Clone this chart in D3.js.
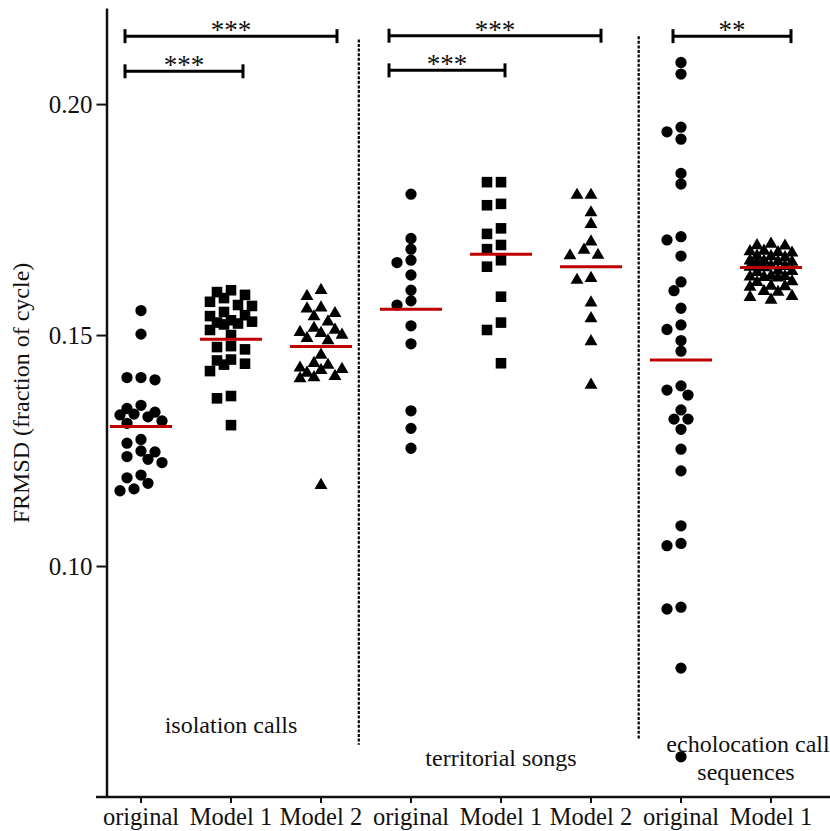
<!DOCTYPE html>
<html><head><meta charset="utf-8">
<script src="https://cdn.jsdelivr.net/npm/d3@7"></script>
<style>body{margin:0;background:#fff}text{font-family:"Liberation Serif","Times New Roman",serif;fill:#111}</style>
</head><body><svg id="c" width="830" height="831"></svg>
<script>
// ---------- data ----------
const categories = ["iso-orig","iso-m1","iso-m2","ter-orig","ter-m1","ter-m2","echo-orig","echo-m1"];
const tickLabels = ["original","Model 1","Model 2","original","Model 1","Model 2","original","Model 1"];
const yTicks = [0.10, 0.15, 0.20];

const isoOriginal = [0.1553,0.1502,0.1408,0.1403,0.1408,0.1348,0.1341,0.1329,0.1323,0.1327,0.1333,0.1314,0.1309,
  0.1274,0.1266,0.1249,0.1247,0.1237,0.1231,0.1224,0.1197,0.1191,0.1179,0.1167,0.1163];
const isoModel1 = [0.1597,0.1593,0.1587,0.1580,0.1572,0.1565,0.1563,0.1550,0.1543,0.1541,0.1532,0.1529,0.1527,0.1525,0.1523,
  0.1511,0.1500,0.1476,0.1474,0.1469,0.1447,0.1445,0.1438,0.1436,0.1422,0.1368,0.1363,0.1305];
const isoModel2 = [0.1597,0.1584,0.1559,0.1557,0.1540,0.1547,0.1529,0.1511,0.1506,0.1504,0.1515,0.1500,0.1493,0.1488,
  0.1457,0.1435,0.1439,0.1429,0.1426,0.1418,0.1424,0.1408,0.1406,0.1411,0.1175];
const terOriginal = [0.1805,0.1709,0.1686,0.1657,0.1662,0.1630,0.1597,0.1574,0.1565,0.1520,0.1481,0.1336,0.1298,0.1255];
const terModel1 = [0.1831,0.1831,0.1781,0.1784,0.1731,0.1719,0.1695,0.1686,0.1662,0.1648,0.1583,0.1527,0.1511,0.1439];
const terModel2 = [0.1803,0.1803,0.1765,0.1740,0.1702,0.1673,0.1672,0.1684,0.1619,0.1623,0.1570,0.1536,0.1486,0.1392];
const echoOriginal = [0.2090,0.2065,0.1940,0.1924,0.1950,0.1827,0.1850,0.1713,0.1706,0.1671,0.1615,0.1596,0.1558,0.1522,
  0.1512,0.1488,0.1465,0.1381,0.1370,0.1390,0.1338,0.1318,0.1318,0.1296,0.1253,0.1206,0.1087,0.1049,0.1044,0.0907,0.0911,
  0.0779,0.0587];
const echoModel1 = [0.1693,0.1697,0.1694,0.1682,0.1679,0.1681,0.1678,0.1670,0.1668,0.1671,0.1661,0.1658,0.1660,0.1657,0.1659,
  0.1650,0.1647,0.1649,0.1646,0.1638,0.1636,0.1639,0.1628,0.1625,0.1627,0.1624,0.1626,0.1616,0.1614,0.1606,0.1604,0.1605,
  0.1595,0.1593,0.1584,0.1582,0.1576];
const seriesValues = [isoOriginal, isoModel1, isoModel2, terOriginal, terModel1, terModel2, echoOriginal, echoModel1];
const means = [0.1302, 0.1491, 0.1475, 0.1556, 0.1675, 0.1648, 0.1446, 0.1646];
const markerKinds = ["circle","square","triangle","circle","square","triangle","circle","triangle"];

const groupLabels = [
  {lines:["isolation calls"], from:"iso-orig", to:"iso-m2"},
  {lines:["territorial songs"], from:"ter-orig", to:"ter-m2"},
  {lines:["echolocation call","sequences"], from:"echo-orig", to:"echo-m1"}
];
const comparisons = [
  {from:"iso-orig", to:"iso-m2", level:0.2147, label:"***"},
  {from:"iso-orig", to:"iso-m1", level:0.2071, label:"***"},
  {from:"ter-orig", to:"ter-m2", level:0.2148, label:"***"},
  {from:"ter-orig", to:"ter-m1", level:0.2073, label:"***"},
  {from:"echo-orig", to:"echo-m1", level:0.2147, label:"**"}
];

// ---------- layout (pixels) ----------
const bracketDx = [[-16,16],[-16,12],[-22,10],[-22,4],[-8,20]];
const glPos = [{dx:0, y:733}, {dx:0, y:766}, {dx:22, y:752}];

// ---------- chart ----------
const W = 830, H = 831;
const svg = d3.select("#c");
const x = d3.scaleBand().domain(categories).range([96, 816]).padding(0);
const y = d3.scaleLinear().domain([0.05, 0.2208]).range([797, 8]);
const cx = c => x(c) + x.bandwidth()/2;
const axisX = 106.5;

// separators (dotted)
const seps = [
  {a:"iso-m2", b:"ter-orig", t:0.42, y1:0.2140, y2:0.0613},
  {a:"ter-m2", b:"echo-orig", t:0.53, y1:0.2147, y2:0.0625}
];
svg.selectAll("line.sep").data(seps).join("line")
  .attr("x1", d => cx(d.a) + (cx(d.b)-cx(d.a))*d.t)
  .attr("x2", d => cx(d.a) + (cx(d.b)-cx(d.a))*d.t)
  .attr("y1", d => y(d.y1)).attr("y2", d => y(d.y2))
  .attr("stroke", "#000").attr("stroke-width", 2.2).attr("stroke-dasharray", "3,1.6");

// axes
const gy = svg.append("g").attr("transform", `translate(${axisX},0)`)
  .call(d3.axisLeft(y).tickValues(yTicks).tickFormat(d3.format(".2f")).tickSize(10).tickSizeOuter(0).tickPadding(4));
gy.select(".domain").attr("stroke", "#111").attr("stroke-width", 2.5);
gy.selectAll(".tick line").attr("stroke", "#111").attr("stroke-width", 2);
gy.selectAll(".tick text").style("font-size", "25px").style("font-family", "Liberation Serif").attr("dy", "0.34em");

const gx = svg.append("g").attr("transform", `translate(0,${y(0.05)})`)
  .call(d3.axisBottom(x).tickFormat((d,i) => tickLabels[i]).tickSize(6).tickSizeOuter(0).tickPadding(5));
gx.select(".domain").remove();
gx.append("line").attr("x1", 96).attr("x2", W).attr("y1", 0).attr("y2", 0)
  .attr("stroke", "#111").attr("stroke-width", 2.5);
gx.selectAll(".tick line").attr("stroke", "#111").attr("stroke-width", 2);
gx.selectAll(".tick text").style("font-size", "24.5px").style("font-family", "Liberation Serif");

// y axis title
svg.append("text").attr("transform", `translate(29,393) rotate(-90)`)
  .attr("text-anchor", "middle").style("font-size", "24px").text("FRMSD (fraction of cycle)");

// swarm layout (compact, bounded width)
function swarm(vals, c, s, d, maxK) {
  const pts = vals.map(v => ({v, py: y(v)})).sort((a,b) => a.py - b.py);
  const offs = [0];
  for (let k = 1; k <= maxK; k++) offs.push(-k*s, k*s);
  const placed = [];
  for (const p of pts) {
    let best = 0, bestD = -1;
    for (const off of offs) {
      const md = placed.reduce((m,q) => Math.min(m, Math.hypot(q.px - (c + off), q.py - p.py)), Infinity);
      if (md >= d) { best = off; break; }
      if (md > bestD) { bestD = md; best = off; }
    }
    p.px = c + best;
    placed.push(p);
  }
  return placed;
}
const symType = {circle: d3.symbolCircle, square: d3.symbolSquare, triangle: d3.symbolTriangle};
const symSize = {circle: 100, square: 112, triangle: 72};

categories.forEach((cat, i) => {
  const pts = swarm(seriesValues[i], cx(cat), 7, 10.5, 3);
  const kind = markerKinds[i];
  svg.append("g").selectAll("path").data(pts).join("path")
    .attr("transform", d => `translate(${d.px},${d.py})`)
    .attr("d", d3.symbol().type(symType[kind]).size(symSize[kind]))
    .attr("fill", "#000");
});

// mean lines
svg.selectAll("line.mean").data(categories).join("line")
  .attr("x1", d => cx(d) - 31).attr("x2", d => cx(d) + 31)
  .attr("y1", (d,i) => y(means[i])).attr("y2", (d,i) => y(means[i]))
  .attr("stroke", "#c00000").attr("stroke-width", 3);

// comparison brackets
const br = svg.append("g");
comparisons.forEach((cmp, i) => {
  const x1 = cx(cmp.from) + bracketDx[i][0], x2 = cx(cmp.to) + bracketDx[i][1], yy = y(cmp.level);
  const g = br.append("g").attr("stroke", "#000").attr("stroke-width", 3);
  g.append("line").attr("x1", x1).attr("x2", x2).attr("y1", yy).attr("y2", yy);
  g.append("line").attr("x1", x1).attr("x2", x1).attr("y1", yy-7).attr("y2", yy+7);
  g.append("line").attr("x1", x2).attr("x2", x2).attr("y1", yy-7).attr("y2", yy+7);
  br.append("text").attr("x", (x1+x2)/2).attr("y", yy + 3).attr("text-anchor", "middle")
    .style("font-size", "27px").text(cmp.label);
});

// group labels
groupLabels.forEach((gl, i) => {
  const mid = (cx(gl.from) + cx(gl.to)) / 2 + glPos[i].dx;
  gl.lines.forEach((ln, j) => {
    svg.append("text").attr("x", mid - (j === 1 ? 2 : 0)).attr("y", glPos[i].y + j*28)
      .attr("text-anchor", "middle").style("font-size", "24px").text(ln);
  });
});
</script></body></html>
